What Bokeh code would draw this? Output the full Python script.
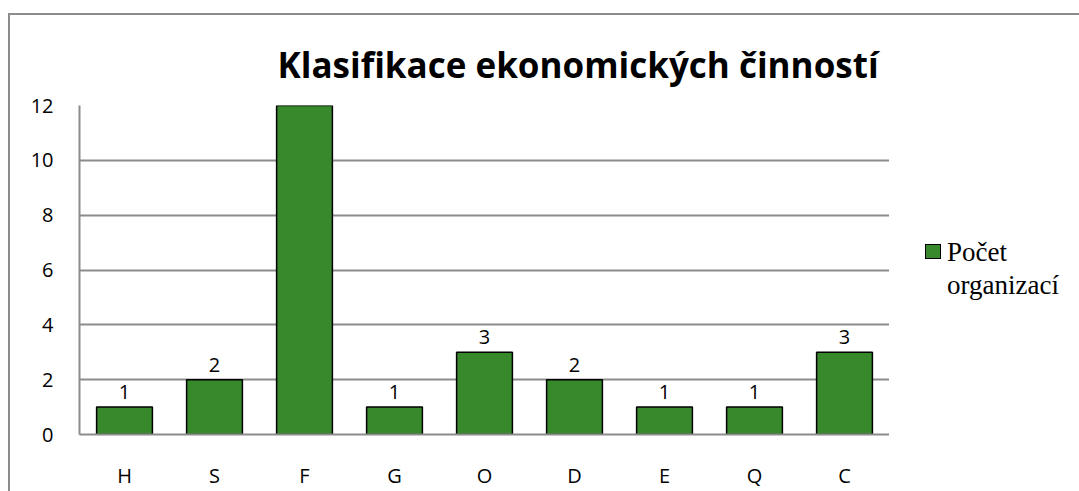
from bokeh.plotting import figure
from bokeh.models import ColumnDataSource, LabelSet, Range1d, FixedTicker, Div
from bokeh.layouts import row
from bokeh.core.properties import value
from bokeh.embed import file_html
from bokeh.resources import INLINE

categories = ["H", "S", "F", "G", "O", "D", "E", "Q", "C"]
counts = [1, 2, 12, 1, 3, 2, 1, 1, 3]
series_name_lines = ["Počet", "organizací"]
title_text = "Klasifikace ekonomických činností"
y_ticks = [0, 2, 4, 6, 8, 10, 12]
bar_color = "#37892b"

src = ColumnDataSource(dict(cat=categories, val=counts, lab=[str(v) for v in counts]))

p = figure(x_range=categories, y_range=Range1d(0, 12), width=879, height=476,
           output_backend="svg", toolbar_location=None,
           min_border_left=69, min_border_right=0, min_border_top=90, min_border_bottom=57)

p.title.text = title_text
p.title.text_font = "Open Sans"
p.title.text_font_size = "35px"
p.title.text_font_style = "bold"
p.title.text_color = "black"
p.title.align = "left"
p.title.offset = 198
p.title.standoff = 36

bars = p.vbar(x="cat", top="val", width=0.62, source=src, fill_color=bar_color,
              line_color="black", line_width=1.5)

labels = LabelSet(x="cat", y="val", text="lab", source=src, text_align="center",
                  text_baseline="alphabetic", y_offset=8, text_font=value("Open Sans"),
                  text_font_size=value("20px"), text_color="black")
p.add_layout(labels)

p.outline_line_color = None
p.xgrid.grid_line_color = None
p.ygrid.grid_line_color = "#8c8c8c"
p.ygrid.grid_line_width = 2
p.yaxis.ticker = FixedTicker(ticks=y_ticks)

for ax in (p.xaxis[0], p.yaxis[0]):
    ax.axis_line_color = "#8c8c8c"
    ax.axis_line_width = 2
    ax.major_tick_line_color = None
    ax.minor_tick_line_color = None
    ax.major_label_text_font = "Open Sans"
    ax.major_label_text_font_size = "20px"
    ax.major_label_text_color = "black"
p.yaxis.major_label_standoff = 20
p.xaxis.major_label_standoff = 21

legend_html = (
    '<div style="position:relative;width:190px;height:476px;'
    'font-family:\'Liberation Serif\';font-size:27px;color:black;">'
    '<span style="position:absolute;left:31px;top:224px;width:14px;height:13px;'
    'box-sizing:content-box;background:%s;border:1px solid black;"></span>'
    '<span style="position:absolute;left:53px;top:216px;line-height:33px;white-space:nowrap;">'
    '%s<br>%s</span></div>' % (bar_color, series_name_lines[0], series_name_lines[1])
)
legend_div = Div(text=legend_html, width=190, height=476)

layout = row(p, legend_div)
layout.styles = {"border-top": "2px solid #8c8c8c", "border-left": "2px solid #8c8c8c",
                 "margin-top": "13px", "margin-left": "8px"}

open("out.html", "w").write(file_html(layout, INLINE))
